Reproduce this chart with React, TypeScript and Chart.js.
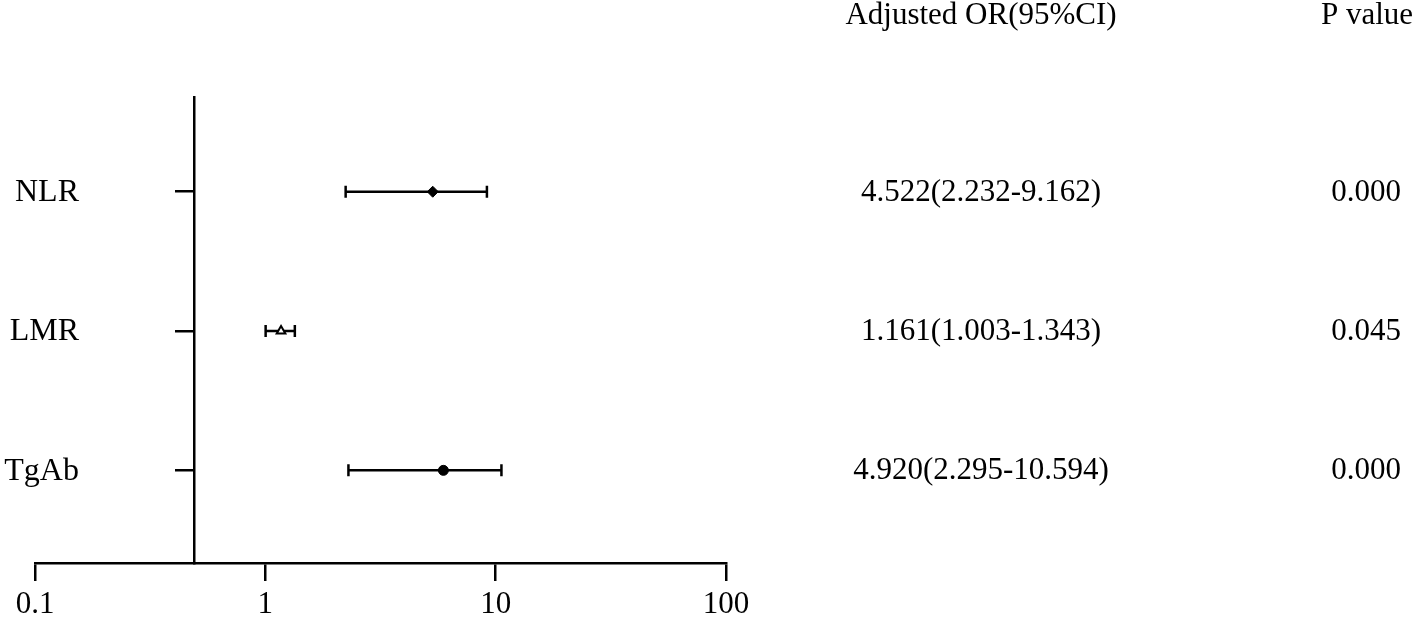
import React, { useEffect, useRef } from 'react';
import { Chart, registerables } from 'chart.js';

Chart.register(...registerables);

// ---- data ----
const rowLabels = ['NLR', 'LMR', 'TgAb'];
const rowPositions = [3, 2, 1];
const pointEstimates = [5.33, 1.17, 5.93];
const ciLower = [2.232, 1.003, 2.295];
const ciUpper = [9.162, 1.343, 10.594];
const orTexts = ['4.522(2.232-9.162)', '1.161(1.003-1.343)', '4.920(2.295-10.594)'];
const pTexts = ['0.000', '0.045', '0.000'];
const xTicks = [0.1, 1, 10, 100];
const orHeader = 'Adjusted OR(95%CI)';
const pHeader = 'P value';

const FONT = '"Liberation Serif", "Times New Roman", serif';
const Y_AXIS_AT = 0.49;

const forestPlugin = {
  id: 'forestExtras',
  beforeDatasetsDraw(chart: any) {
    const { ctx, scales } = chart;
    const x = scales.x;
    const y = scales.y;
    ctx.save();
    ctx.strokeStyle = '#000';
    ctx.lineWidth = 2.5;
    rowPositions.forEach((r, i) => {
      const py = y.getPixelForValue(r);
      const x1 = x.getPixelForValue(ciLower[i]);
      const x2 = x.getPixelForValue(ciUpper[i]);
      ctx.beginPath();
      ctx.moveTo(x1, py);
      ctx.lineTo(x2, py);
      ctx.moveTo(x1, py - 6);
      ctx.lineTo(x1, py + 6);
      ctx.moveTo(x2, py - 6);
      ctx.lineTo(x2, py + 6);
      ctx.stroke();
    });
    ctx.restore();
  },
  afterDraw(chart: any) {
    const { ctx, scales } = chart;
    const x = scales.x;
    const y = scales.y;
    ctx.save();
    ctx.fillStyle = '#000';
    ctx.textBaseline = 'middle';
    // row labels, right-aligned left of the y axis ticks
    const axisX = x.getPixelForValue(Y_AXIS_AT);
    ctx.font = `32px ${FONT}`;
    ctx.textAlign = 'right';
    rowPositions.forEach((r, i) => {
      ctx.fillText(rowLabels[i], axisX - 115, y.getPixelForValue(r) + 1);
    });
    // table columns
    ctx.font = `31px ${FONT}`;
    ctx.textAlign = 'center';
    ctx.fillText(orHeader, 981, 16);
    ctx.fillText(pHeader, 1367, 16);
    rowPositions.forEach((r, i) => {
      const py = y.getPixelForValue(r) + 1;
      ctx.fillText(orTexts[i], 981, py);
      ctx.fillText(pTexts[i], 1366, py);
    });
    ctx.restore();
  },
};

export default function App() {
  const canvasRef = useRef<HTMLCanvasElement | null>(null);

  useEffect(() => {
    if (!canvasRef.current) return;
    const chart = new Chart(canvasRef.current, {
      type: 'scatter',
      data: {
        datasets: [
          {
            data: rowPositions.map((r, i) => ({ x: pointEstimates[i], y: r })),
            pointStyle: ['rectRot', 'triangle', 'circle'] as any,
            pointRadius: [5.5, 5, 5],
            pointHoverRadius: [5.5, 5, 5],
            backgroundColor: ['#000', '#fff', '#000'],
            borderColor: '#000',
            borderWidth: [1, 2, 1],
          },
        ],
      },
      options: {
        responsive: false,
        animation: false,
        events: [],
        layout: { padding: { left: 35, right: 691, top: 97, bottom: 0 } },
        plugins: {
          legend: { display: false },
          tooltip: { enabled: false },
          title: { display: false },
        },
        scales: {
          x: {
            type: 'logarithmic',
            position: 'bottom',
            min: 0.1,
            max: 100,
            afterBuildTicks: (s: any) => {
              s.ticks = xTicks.map((v) => ({ value: v }));
            },
            afterFit: (s: any) => {
              s.height = 60;
            },
            ticks: {
              color: '#000',
              padding: 5,
              maxRotation: 0,
              autoSkip: false,
              font: { family: FONT, size: 31 },
              callback: (v: any) => String(v),
            },
            grid: {
              drawOnChartArea: false,
              drawTicks: true,
              tickLength: 18,
              color: '#000',
              lineWidth: 2.5,
            },
            border: { display: true, color: '#000', width: 2.5 },
          },
          y: {
            type: 'linear',
            position: { x: Y_AXIS_AT } as any,
            min: 0.335,
            max: 3.68,
            afterBuildTicks: (s: any) => {
              s.ticks = rowPositions.map((v) => ({ value: v }));
            },
            ticks: { display: false },
            grid: {
              drawOnChartArea: false,
              drawTicks: true,
              tickLength: 18,
              color: '#000',
              lineWidth: 2.5,
            },
            border: { display: true, color: '#000', width: 2.5 },
          },
        },
      },
      plugins: [forestPlugin],
    });
    return () => chart.destroy();
  }, []);

  return (
    <div style={{ position: 'absolute', left: 0, top: 0, width: 1417, height: 623, background: '#fff' }}>
      <canvas ref={canvasRef} width={1417} height={623} style={{ display: 'block' }} />
    </div>
  );
}
